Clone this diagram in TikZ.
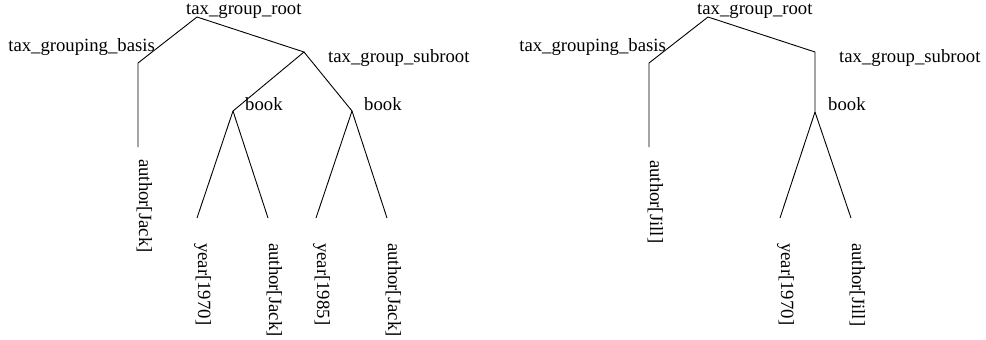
\documentclass[tikz,border=0pt]{standalone}
\usepackage{fontspec}
\setmainfont{Liberation Serif}
\begin{document}
\begin{tikzpicture}[x=1pt,y=-1pt,
  edge/.style={line width=0.9pt, line join=miter},
  lbl/.style={font=\fontsize{18.7}{22}\selectfont, inner sep=0pt, anchor=base west},
  lble/.style={lbl, anchor=base east},
  leaf/.style={lbl, rotate=-90}]
\useasboundingbox (0,0) rectangle (986,340);
% ---------- left tree ----------
\coordinate (Lroot) at (197,17);
\coordinate (Lbasis) at (138,63);
\coordinate (Lbasisend) at (138,147);
\coordinate (Lsub) at (304,52);
\coordinate (Lbook1) at (233,111);
\coordinate (Lbook2) at (352,111);
\coordinate (Ly1) at (197,218);
\coordinate (La1) at (268,218);
\coordinate (Ly2) at (316,218);
\coordinate (La2) at (387,218);
\draw[edge] (Lbasisend) -- (Lbasis) -- (Lroot) -- (Lsub) -- (Lbook1) -- (Ly1);
\draw[edge] (Lbook1) -- (La1);
\draw[edge] (Lsub) -- (Lbook2) -- (Ly2);
\draw[edge] (Lbook2) -- (La2);
\node[lbl] (LrootT) at (186,15) {tax\_group\_root};
\node[lble] (LbasisT) at (155,51) {tax\_grouping\_basis};
\node[lbl] (LsubT) at (328,62) {tax\_group\_subroot};
\node[lbl] (Lbook1T) at (245,110) {book};
\node[lbl] (Lbook2T) at (364,110) {book};
\node[leaf] (LauthT) at (139,159) {author[Jack]};
\node[leaf] (Ly1T) at (198,243) {year[1970]};
\node[leaf] (La1T) at (269,243) {author[Jack]};
\node[leaf] (Ly2T) at (317,243) {year[1985]};
\node[leaf] (La2T) at (388,243) {author[Jack]};
% ---------- right tree ----------
\coordinate (Rroot) at (708,17);
\coordinate (Rbasis) at (649,63);
\coordinate (Rbasisend) at (649,147);
\coordinate (Rsub) at (815,52);
\coordinate (Rbook) at (815,112);
\coordinate (Ry) at (780,218);
\coordinate (Ra) at (851,218);
\draw[edge] (Rbasisend) -- (Rbasis) -- (Rroot) -- (Rsub) -- (Rbook) -- (Ry);
\draw[edge] (Rbook) -- (Ra);
\node[lbl] (RrootT) at (697,15) {tax\_group\_root};
\node[lble] (RbasisT) at (666,51) {tax\_grouping\_basis};
\node[lbl] (RsubT) at (839,62) {tax\_group\_subroot};
\node[lbl] (RbookT) at (828,110) {book};
\node[leaf] (RauthT) at (650,160) {author[Jill]};
\node[leaf] (RyT) at (781,243) {year[1970]};
\node[leaf] (RaT) at (852,243) {author[Jill]};
\end{tikzpicture}
\end{document}
